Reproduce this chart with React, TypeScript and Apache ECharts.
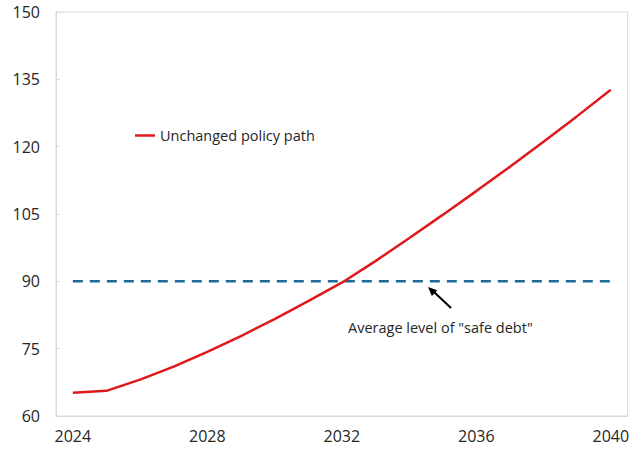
import React, { useEffect, useRef } from "react";
import * as echarts from "echarts";

const years = [
  "2024", "2025", "2026", "2027", "2028", "2029", "2030", "2031", "2032",
  "2033", "2034", "2035", "2036", "2037", "2038", "2039", "2040",
];
const unchangedPolicy = [
  65.2, 65.6, 68.1, 71.0, 74.3, 77.8, 81.6, 85.6, 89.7,
  94.5, 99.6, 104.8, 110.1, 115.5, 121.1, 126.8, 132.7,
];
const safeDebtLevel = 90;
const safeDebt = years.map(() => safeDebtLevel);
const yMin = 60;
const yMax = 150;
const yStep = 15;

const FONT = "'Open Sans', 'Noto Sans', sans-serif";

export default function App() {
  const ref = useRef<HTMLDivElement>(null);
  useEffect(() => {
    if (!ref.current) return;
    const chart = echarts.init(ref.current, null, { renderer: "svg" });
    chart.setOption({
      animation: false,
      textStyle: { fontFamily: FONT },
      grid: { left: 56, right: 2, top: 12, bottom: 34, show: true, borderColor: "#d9d9d9", borderWidth: 1 },
      legend: {
        data: [{ name: "Unchanged policy path", icon: "rect" }],
        left: 130,
        top: 123,
        itemWidth: 20,
        itemHeight: 2.5,
        textStyle: { fontFamily: FONT, fontSize: 14.5, color: "#262626" },
      },
      xAxis: {
        type: "category",
        data: years,
        boundaryGap: true,
        axisLine: { lineStyle: { color: "#d9d9d9" } },
        axisTick: { inside: true, length: 7, interval: 3, lineStyle: { color: "#bfbfbf" } },
        axisLabel: { interval: 3, fontSize: 16, color: "#262626", margin: 12, fontFamily: FONT },
        splitLine: { show: false },
      },
      yAxis: {
        type: "value",
        min: yMin,
        max: yMax,
        interval: yStep,
        axisLine: { show: true, lineStyle: { color: "#d9d9d9" } },
        axisTick: { show: true, inside: true, length: 4, lineStyle: { color: "#d9d9d9" } },
        axisLabel: { fontSize: 16, color: "#262626", margin: 16, fontFamily: FONT },
        splitLine: { show: false },
      },
      series: [
        {
          name: "Unchanged policy path",
          type: "line",
          data: unchangedPolicy,
          symbol: "none",
          lineStyle: { color: "#e0181c", width: 2.5 },
          itemStyle: { color: "#e0181c" },
          z: 3,
        },
        {
          name: "Safe debt",
          type: "line",
          data: safeDebt,
          symbol: "none",
          lineStyle: { color: "#1d6a9b", width: 2.5, type: [10, 7] },
          itemStyle: { color: "#1d6a9b" },
          z: 2,
        },
      ],
      graphic: [
        {
          type: "text",
          left: 348,
          top: 320,
          style: { text: 'Average level of "safe debt"', fontSize: 14.5, fontFamily: FONT, fill: "#262626" },
        },
        {
          type: "line",
          shape: { x1: 451, y1: 308, x2: 434, y2: 292 },
          style: { stroke: "#000", lineWidth: 2 },
        },
        {
          type: "polygon",
          shape: { points: [[428, 287], [437.3, 290.2], [431.9, 296.1]] },
          style: { fill: "#000" },
        },
      ],
    });
    return () => chart.dispose();
  }, []);
  return <div ref={ref} style={{ position: "absolute", left: 0, top: 0, width: 632, height: 450 }} />;
}
